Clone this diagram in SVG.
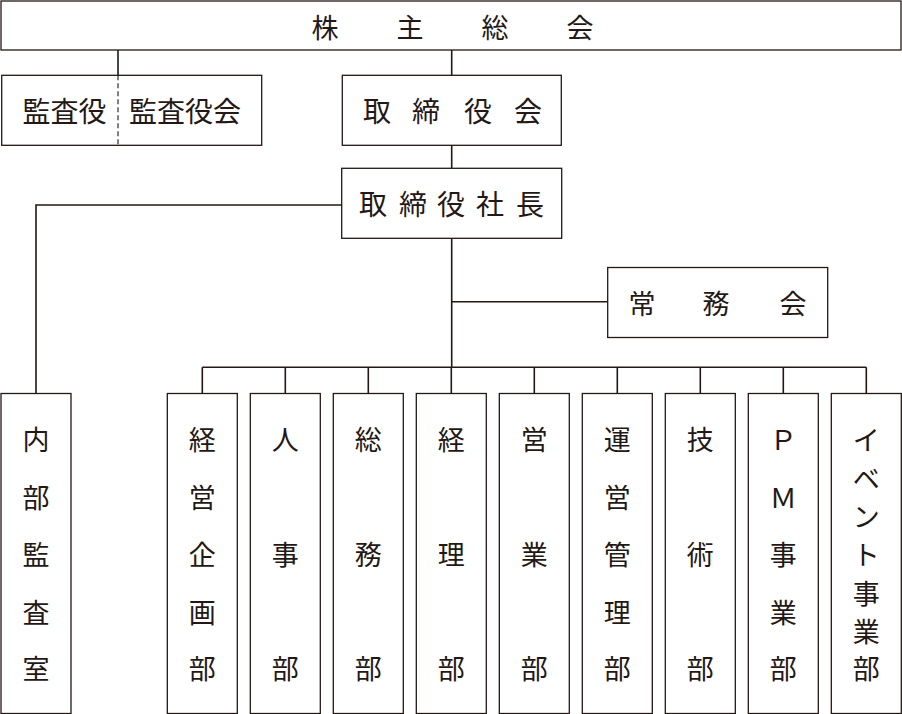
<svg xmlns="http://www.w3.org/2000/svg" width="902" height="714" viewBox="0 0 902 714">
<style>
.box{fill:#fff;stroke:#231815;stroke-width:1.3}
.ln{fill:none;stroke:#231815;stroke-width:1.6}
.dash{fill:none;stroke:#231815;stroke-width:1.1;stroke-dasharray:5 3}
text{font-family:"Noto Sans CJK JP","Noto Sans CJK SC",sans-serif;fill:#231815;text-anchor:middle;dominant-baseline:central}
.t{font-size:27px}
.h{font-size:28px}
</style>
<rect width="902" height="714" fill="#fff"/>
<g id="connectors">
<path class="ln" d="M118 50V75M451.7 50V75M451.7 145V168M341.7 205H36V393.5M451.7 238V367.3M451.7 301.7H607.7M202.3 367.3H866.3"/>
<path class="ln" d="M202.3 367.3V393.5M285.3 367.3V393.5M368.3 367.3V393.5M451.3 367.3V393.5M534.3 367.3V393.5M617.3 367.3V393.5M700.3 367.3V393.5M783.3 367.3V393.5M866.3 367.3V393.5"/>
</g>
<g id="kabunushi">
<rect class="box" x="1" y="1" width="900" height="49"/>
<text class="t" y="26"><tspan x="325">株</tspan><tspan x="410">主</tspan><tspan x="495">総</tspan><tspan x="580">会</tspan></text>
</g>
<g id="kansayaku">
<rect class="box" x="1.7" y="75.3" width="260" height="70"/>
<line class="dash" x1="118" y1="75.3" x2="118" y2="145.3"/>
<text class="h" x="64.5" y="110">監査役</text>
<text class="h" x="185" y="110">監査役会</text>
</g>
<g id="torishimariyakukai">
<rect class="box" x="342.3" y="75.3" width="219" height="70"/>
<text class="h" y="110"><tspan x="377">取</tspan><tspan x="426">締</tspan><tspan x="478">役</tspan><tspan x="528">会</tspan></text>
</g>
<g id="shacho">
<rect class="box" x="341.7" y="168.3" width="220" height="70"/>
<text class="h" y="203"><tspan x="373">取</tspan><tspan x="413">締</tspan><tspan x="451">役</tspan><tspan x="490">社</tspan><tspan x="530">長</tspan></text>
</g>
<g id="jomukai">
<rect class="box" x="607.7" y="267.5" width="220" height="70"/>
<text class="t" y="302"><tspan x="642">常</tspan><tspan x="716">務</tspan><tspan x="793">会</tspan></text>
</g>
<g id="naibukansa">
<rect class="box" x="1" y="393.5" width="70" height="320"/>
<text class="t" x="36"><tspan x="36" y="438">内</tspan><tspan x="36" y="496">部</tspan><tspan x="36" y="553">監</tspan><tspan x="36" y="611">査</tspan><tspan x="36" y="667">室</tspan></text>
</g>
<g id="keieikikaku">
<rect class="box" x="167.3" y="393.5" width="70" height="320"/>
<text class="t"><tspan x="202.3" y="438">経</tspan><tspan x="202.3" y="496">営</tspan><tspan x="202.3" y="553">企</tspan><tspan x="202.3" y="611">画</tspan><tspan x="202.3" y="667">部</tspan></text>
</g>
<g id="jinji">
<rect class="box" x="250.3" y="393.5" width="70" height="320"/>
<text class="t"><tspan x="285.3" y="438">人</tspan><tspan x="285.3" y="553">事</tspan><tspan x="285.3" y="667">部</tspan></text>
</g>
<g id="somu">
<rect class="box" x="333.3" y="393.5" width="70" height="320"/>
<text class="t"><tspan x="368.3" y="438">総</tspan><tspan x="368.3" y="553">務</tspan><tspan x="368.3" y="667">部</tspan></text>
</g>
<g id="keiri">
<rect class="box" x="416.3" y="393.5" width="70" height="320"/>
<text class="t"><tspan x="451.3" y="438">経</tspan><tspan x="451.3" y="553">理</tspan><tspan x="451.3" y="667">部</tspan></text>
</g>
<g id="eigyo">
<rect class="box" x="499.3" y="393.5" width="70" height="320"/>
<text class="t"><tspan x="534.3" y="438">営</tspan><tspan x="534.3" y="553">業</tspan><tspan x="534.3" y="667">部</tspan></text>
</g>
<g id="unei">
<rect class="box" x="582.3" y="393.5" width="70" height="320"/>
<text class="t"><tspan x="617.3" y="438">運</tspan><tspan x="617.3" y="496">営</tspan><tspan x="617.3" y="553">管</tspan><tspan x="617.3" y="611">理</tspan><tspan x="617.3" y="667">部</tspan></text>
</g>
<g id="gijutsu">
<rect class="box" x="665.3" y="393.5" width="70" height="320"/>
<text class="t"><tspan x="700.3" y="438">技</tspan><tspan x="700.3" y="553">術</tspan><tspan x="700.3" y="667">部</tspan></text>
</g>
<g id="pm">
<rect class="box" x="748.3" y="393.5" width="70" height="320"/>
<text class="t"><tspan x="783.3" y="438">Ｐ</tspan><tspan x="783.3" y="496">Ｍ</tspan><tspan x="783.3" y="553">事</tspan><tspan x="783.3" y="611">業</tspan><tspan x="783.3" y="667">部</tspan></text>
</g>
<g id="event">
<rect class="box" x="831.3" y="393.5" width="70" height="320"/>
<text class="t"><tspan x="866.3" y="438">イ</tspan><tspan x="866.3" y="477">ベ</tspan><tspan x="866.3" y="515">ン</tspan><tspan x="866.3" y="553">ト</tspan><tspan x="866.3" y="592">事</tspan><tspan x="866.3" y="630">業</tspan><tspan x="866.3" y="667">部</tspan></text>
</g>
</svg>
